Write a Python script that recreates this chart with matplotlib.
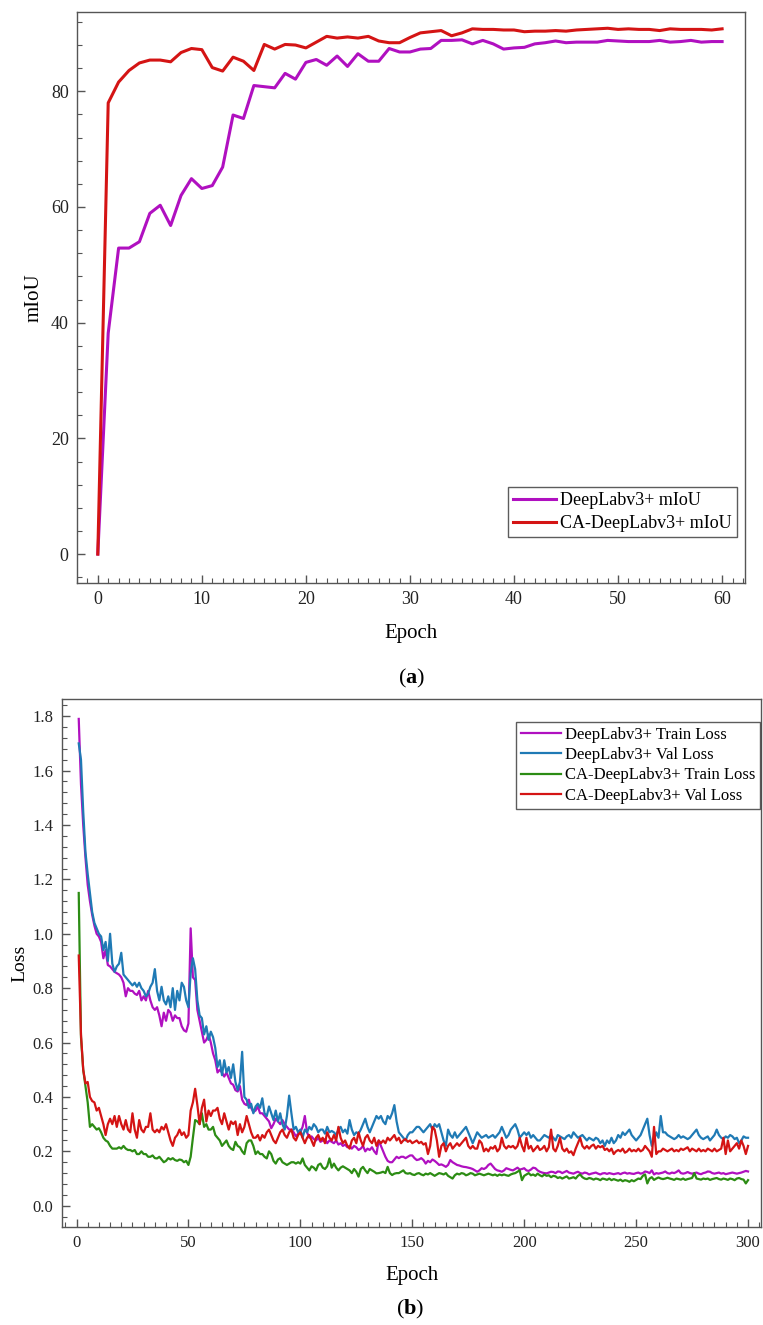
import matplotlib
matplotlib.use("Agg")
import matplotlib.pyplot as plt
from matplotlib.ticker import MultipleLocator, FormatStrFormatter

plt.rcParams['font.family'] = ['Liberation Serif', 'DejaVu Serif']
plt.rcParams['mathtext.fontset'] = 'custom'
plt.rcParams['mathtext.rm'] = 'Liberation Serif'
plt.rcParams['mathtext.bf'] = 'Liberation Serif:bold'

# ---- (a) mIoU per epoch ----
miou_epoch = list(range(0, 61))
dl_miou = [0.0, 38.2, 52.9, 52.9, 54.0, 58.9, 60.3, 56.8, 62.0, 64.9,
           63.2, 63.7, 66.9, 75.9, 75.3, 81.0, 80.8, 80.6, 83.1, 82.1,
           85.0, 85.5, 84.5, 86.1, 84.3, 86.5, 85.2, 85.2, 87.4, 86.8,
           86.8, 87.3, 87.4, 88.8, 88.8, 88.9, 88.2, 88.8, 88.2, 87.3,
           87.5, 87.6, 88.2, 88.4, 88.7, 88.4, 88.5, 88.5, 88.5, 88.8,
           88.7, 88.6, 88.6, 88.6, 88.8, 88.5, 88.6, 88.8, 88.5, 88.6,
           88.6]
ca_miou = [0.0, 78.0, 81.6, 83.6, 84.9, 85.4, 85.4, 85.1, 86.7, 87.4,
           87.2, 84.1, 83.5, 85.9, 85.2, 83.6, 88.1, 87.3, 88.1, 88.0,
           87.5, 88.5, 89.5, 89.2, 89.4, 89.2, 89.5, 88.7, 88.4, 88.4,
           89.3, 90.1, 90.3, 90.5, 89.6, 90.1, 90.8, 90.7, 90.7, 90.6,
           90.6, 90.3, 90.4, 90.4, 90.5, 90.4, 90.6, 90.7, 90.8, 90.9,
           90.7, 90.8, 90.7, 90.7, 90.5, 90.8, 90.7, 90.7, 90.7, 90.6,
           90.8]

# ---- (b) loss per epoch ----
loss_epoch = list(range(1, 301))
dl_train = [1.79, 1.55, 1.40, 1.28, 1.18, 1.12, 1.07, 1.03, 1.00, 0.99,
            0.97, 0.91, 0.94, 0.885, 0.88, 0.87, 0.86, 0.855, 0.85, 0.84,
            0.82, 0.77, 0.80, 0.79, 0.79, 0.78, 0.775, 0.79, 0.755, 0.77,
            0.755, 0.79, 0.755, 0.73, 0.72, 0.73, 0.70, 0.66, 0.71, 0.68,
            0.72, 0.71, 0.68, 0.70, 0.69, 0.69, 0.66, 0.645, 0.64, 0.67,
            1.02, 0.84, 0.83, 0.72, 0.68, 0.64, 0.60, 0.61, 0.63, 0.60,
            0.56, 0.535, 0.49, 0.50, 0.49, 0.475, 0.49, 0.47, 0.45, 0.445,
            0.425, 0.42, 0.44, 0.39, 0.375, 0.37, 0.39, 0.36, 0.345, 0.35,
            0.365, 0.34, 0.34, 0.33, 0.32, 0.31, 0.285, 0.30, 0.32, 0.31,
            0.30, 0.315, 0.30, 0.29, 0.28, 0.28, 0.27, 0.255, 0.265, 0.27,
            0.29, 0.33, 0.27, 0.25, 0.255, 0.245, 0.24, 0.25, 0.235, 0.24,
            0.245, 0.23, 0.24, 0.235, 0.23, 0.24, 0.225, 0.23, 0.22, 0.225,
            0.215, 0.22, 0.21, 0.22, 0.215, 0.205, 0.21, 0.22, 0.20, 0.21,
            0.205, 0.215, 0.20, 0.19, 0.24, 0.22, 0.20, 0.18, 0.165, 0.16,
            0.16, 0.17, 0.18, 0.175, 0.18, 0.18, 0.175, 0.18, 0.185, 0.185,
            0.175, 0.168, 0.17, 0.175, 0.168, 0.155, 0.165, 0.16, 0.17, 0.165,
            0.158, 0.15, 0.152, 0.148, 0.143, 0.15, 0.168, 0.16, 0.155, 0.15,
            0.148, 0.145, 0.143, 0.142, 0.14, 0.138, 0.135, 0.13, 0.125, 0.13,
            0.138, 0.135, 0.14, 0.15, 0.155, 0.145, 0.135, 0.13, 0.128, 0.125,
            0.13, 0.138, 0.135, 0.132, 0.13, 0.135, 0.14, 0.133, 0.135, 0.138,
            0.13, 0.128, 0.133, 0.14, 0.138, 0.13, 0.125, 0.122, 0.12, 0.119,
            0.122, 0.125, 0.124, 0.12, 0.126, 0.125, 0.12, 0.124, 0.128, 0.122,
            0.12, 0.118, 0.122, 0.125, 0.12, 0.118, 0.122, 0.12, 0.115, 0.118,
            0.12, 0.122, 0.118, 0.115, 0.119, 0.12, 0.117, 0.12, 0.118, 0.116,
            0.118, 0.12, 0.116, 0.12, 0.122, 0.118, 0.12, 0.118, 0.117, 0.12,
            0.122, 0.118, 0.12, 0.126, 0.124, 0.12, 0.13, 0.115, 0.12, 0.118,
            0.12, 0.122, 0.126, 0.12, 0.118, 0.122, 0.12, 0.124, 0.13, 0.12,
            0.118, 0.12, 0.124, 0.12, 0.118, 0.12, 0.122, 0.118, 0.116, 0.12,
            0.122, 0.126, 0.125, 0.12, 0.118, 0.12, 0.122, 0.118, 0.12, 0.116,
            0.118, 0.12, 0.122, 0.12, 0.118, 0.12, 0.122, 0.125, 0.128, 0.126]
dl_val = [1.70, 1.64, 1.45, 1.30, 1.22, 1.15, 1.08, 1.04, 1.02, 1.00,
          0.99, 0.94, 0.97, 0.90, 1.00, 0.89, 0.86, 0.88, 0.89, 0.93,
          0.85, 0.84, 0.83, 0.82, 0.81, 0.82, 0.805, 0.82, 0.80, 0.79,
          0.77, 0.78, 0.805, 0.82, 0.87, 0.79, 0.755, 0.805, 0.755, 0.74,
          0.77, 0.73, 0.80, 0.72, 0.79, 0.755, 0.82, 0.805, 0.755, 0.73,
          0.855, 0.91, 0.87, 0.755, 0.70, 0.69, 0.63, 0.66, 0.61, 0.64,
          0.62, 0.58, 0.51, 0.535, 0.48, 0.535, 0.49, 0.51, 0.47, 0.52,
          0.455, 0.425, 0.455, 0.566, 0.40, 0.39, 0.36, 0.375, 0.34, 0.365,
          0.375, 0.36, 0.395, 0.34, 0.33, 0.365, 0.34, 0.315, 0.35, 0.31,
          0.34, 0.30, 0.28, 0.33, 0.405, 0.34, 0.28, 0.29, 0.27, 0.28,
          0.25, 0.28, 0.27, 0.29, 0.28, 0.30, 0.29, 0.27, 0.28, 0.28,
          0.265, 0.29, 0.27, 0.275, 0.27, 0.26, 0.28, 0.29, 0.27, 0.28,
          0.265, 0.315, 0.28, 0.26, 0.27, 0.265, 0.28, 0.30, 0.32, 0.29,
          0.27, 0.29, 0.31, 0.33, 0.32, 0.33, 0.31, 0.30, 0.33, 0.32,
          0.34, 0.37, 0.31, 0.27, 0.26, 0.25, 0.24, 0.26, 0.27, 0.27,
          0.28, 0.29, 0.29, 0.28, 0.27, 0.28, 0.29, 0.30, 0.28, 0.30,
          0.29, 0.30, 0.27, 0.24, 0.22, 0.28, 0.26, 0.25, 0.27, 0.25,
          0.26, 0.27, 0.28, 0.29, 0.27, 0.25, 0.23, 0.25, 0.27, 0.26,
          0.25, 0.255, 0.26, 0.25, 0.255, 0.26, 0.25, 0.26, 0.27, 0.29,
          0.27, 0.25, 0.26, 0.28, 0.29, 0.30, 0.28, 0.25, 0.26, 0.27,
          0.26, 0.27, 0.25, 0.26, 0.25, 0.24, 0.24, 0.25, 0.26, 0.255,
          0.25, 0.26, 0.25, 0.24, 0.26, 0.255, 0.25, 0.245, 0.255, 0.26,
          0.25, 0.27, 0.26, 0.25, 0.255, 0.26, 0.25, 0.24, 0.25, 0.245,
          0.24, 0.25, 0.245, 0.23, 0.24, 0.22, 0.24, 0.23, 0.25, 0.23,
          0.24, 0.26, 0.25, 0.27, 0.26, 0.27, 0.28, 0.26, 0.25, 0.24,
          0.25, 0.26, 0.28, 0.30, 0.32, 0.26, 0.22, 0.24, 0.27, 0.25,
          0.33, 0.27, 0.27, 0.26, 0.255, 0.25, 0.245, 0.25, 0.26, 0.25,
          0.255, 0.25, 0.245, 0.25, 0.26, 0.27, 0.28, 0.26, 0.25, 0.245,
          0.25, 0.255, 0.24, 0.25, 0.26, 0.28, 0.26, 0.25, 0.245, 0.255,
          0.25, 0.26, 0.255, 0.245, 0.25, 0.23, 0.24, 0.255, 0.25, 0.25]
ca_train = [1.15, 0.62, 0.50, 0.44, 0.38, 0.29, 0.30, 0.29, 0.28, 0.285,
            0.27, 0.25, 0.24, 0.235, 0.22, 0.21, 0.21, 0.21, 0.215, 0.21,
            0.22, 0.21, 0.205, 0.205, 0.20, 0.205, 0.19, 0.19, 0.20, 0.19,
            0.19, 0.18, 0.18, 0.185, 0.175, 0.174, 0.18, 0.17, 0.16, 0.165,
            0.175, 0.17, 0.175, 0.168, 0.165, 0.17, 0.168, 0.16, 0.165, 0.15,
            0.18, 0.25, 0.315, 0.31, 0.30, 0.34, 0.29, 0.30, 0.28, 0.28,
            0.29, 0.26, 0.25, 0.24, 0.22, 0.23, 0.24, 0.22, 0.21, 0.205,
            0.235, 0.22, 0.215, 0.20, 0.19, 0.23, 0.24, 0.24, 0.22, 0.19,
            0.20, 0.19, 0.19, 0.18, 0.174, 0.20, 0.19, 0.165, 0.155, 0.17,
            0.175, 0.16, 0.155, 0.15, 0.155, 0.16, 0.16, 0.155, 0.16, 0.155,
            0.174, 0.15, 0.14, 0.13, 0.145, 0.14, 0.13, 0.15, 0.155, 0.14,
            0.135, 0.145, 0.174, 0.14, 0.155, 0.14, 0.13, 0.14, 0.145, 0.14,
            0.135, 0.13, 0.12, 0.135, 0.125, 0.107, 0.135, 0.143, 0.13, 0.12,
            0.135, 0.13, 0.125, 0.119, 0.12, 0.122, 0.125, 0.12, 0.143, 0.12,
            0.113, 0.118, 0.12, 0.12, 0.125, 0.13, 0.12, 0.118, 0.12, 0.115,
            0.113, 0.118, 0.12, 0.115, 0.112, 0.118, 0.115, 0.12, 0.115, 0.11,
            0.115, 0.12, 0.118, 0.115, 0.12, 0.11, 0.105, 0.10, 0.112, 0.118,
            0.115, 0.12, 0.118, 0.112, 0.115, 0.12, 0.118, 0.112, 0.115, 0.118,
            0.115, 0.112, 0.115, 0.118, 0.115, 0.112, 0.115, 0.11, 0.115, 0.112,
            0.115, 0.112, 0.11, 0.115, 0.118, 0.12, 0.125, 0.13, 0.094, 0.11,
            0.115, 0.12, 0.112, 0.115, 0.11, 0.118, 0.112, 0.108, 0.115, 0.11,
            0.112, 0.105, 0.11, 0.108, 0.102, 0.105, 0.10, 0.104, 0.108, 0.10,
            0.102, 0.105, 0.10, 0.11, 0.115, 0.105, 0.10, 0.098, 0.102, 0.10,
            0.096, 0.10, 0.098, 0.094, 0.10, 0.098, 0.095, 0.10, 0.094, 0.098,
            0.095, 0.092, 0.096, 0.09, 0.094, 0.092, 0.088, 0.094, 0.09, 0.095,
            0.10, 0.098, 0.11, 0.115, 0.082, 0.10, 0.105, 0.095, 0.10, 0.104,
            0.10, 0.098, 0.10, 0.103, 0.10, 0.098, 0.095, 0.10, 0.098, 0.096,
            0.10, 0.095, 0.098, 0.10, 0.102, 0.12, 0.10, 0.098, 0.096, 0.10,
            0.098, 0.10, 0.095, 0.098, 0.10, 0.102, 0.098, 0.096, 0.10, 0.098,
            0.095, 0.10, 0.098, 0.094, 0.10, 0.102, 0.098, 0.096, 0.082, 0.094]
ca_val = [0.92, 0.63, 0.50, 0.45, 0.455, 0.40, 0.385, 0.38, 0.35, 0.36,
          0.33, 0.30, 0.26, 0.30, 0.32, 0.30, 0.33, 0.29, 0.33, 0.30,
          0.28, 0.315, 0.28, 0.27, 0.34, 0.28, 0.25, 0.315, 0.28, 0.27,
          0.29, 0.29, 0.34, 0.28, 0.27, 0.28, 0.27, 0.29, 0.28, 0.30,
          0.27, 0.24, 0.22, 0.25, 0.26, 0.28, 0.26, 0.27, 0.25, 0.26,
          0.35, 0.38, 0.43, 0.37, 0.30, 0.36, 0.39, 0.31, 0.35, 0.33,
          0.35, 0.35, 0.36, 0.32, 0.30, 0.34, 0.31, 0.28, 0.31, 0.30,
          0.31, 0.26, 0.30, 0.27, 0.29, 0.33, 0.30, 0.27, 0.25, 0.25,
          0.26, 0.24, 0.26, 0.25, 0.27, 0.28, 0.26, 0.24, 0.23, 0.25,
          0.27, 0.28, 0.26, 0.25, 0.27, 0.28, 0.25, 0.24, 0.26, 0.27,
          0.25, 0.23, 0.25, 0.26, 0.24, 0.22, 0.25, 0.26, 0.24, 0.25,
          0.23, 0.27, 0.25, 0.24, 0.26, 0.24, 0.29, 0.25, 0.23, 0.24,
          0.22, 0.21, 0.24, 0.25, 0.23, 0.27, 0.24, 0.22, 0.25, 0.26,
          0.24, 0.23, 0.25, 0.22, 0.24, 0.23, 0.24, 0.23, 0.25, 0.24,
          0.25, 0.26, 0.24, 0.25, 0.23, 0.24, 0.245, 0.235, 0.24, 0.23,
          0.235, 0.24, 0.23, 0.235, 0.225, 0.23, 0.19, 0.22, 0.29, 0.28,
          0.24, 0.18, 0.22, 0.23, 0.20, 0.22, 0.23, 0.21, 0.22, 0.23,
          0.22, 0.23, 0.24, 0.25, 0.22, 0.21, 0.22, 0.21, 0.21, 0.24,
          0.23, 0.20, 0.21, 0.20, 0.215, 0.21, 0.22, 0.20, 0.21, 0.25,
          0.22, 0.21, 0.22, 0.215, 0.22, 0.21, 0.22, 0.25, 0.22, 0.20,
          0.25, 0.21, 0.22, 0.20, 0.21, 0.22, 0.205, 0.21, 0.22, 0.20,
          0.215, 0.28, 0.21, 0.20, 0.22, 0.25, 0.21, 0.20, 0.21, 0.195,
          0.20, 0.186, 0.21, 0.23, 0.25, 0.22, 0.21, 0.22, 0.21, 0.22,
          0.225, 0.21, 0.22, 0.215, 0.22, 0.205, 0.21, 0.20, 0.21, 0.19,
          0.20, 0.205, 0.20, 0.21, 0.195, 0.20, 0.21, 0.20, 0.205, 0.20,
          0.21, 0.20, 0.205, 0.22, 0.21, 0.20, 0.18, 0.29, 0.19, 0.20,
          0.20, 0.21, 0.205, 0.20, 0.205, 0.21, 0.20, 0.205, 0.20, 0.21,
          0.205, 0.21, 0.215, 0.20, 0.21, 0.205, 0.20, 0.21, 0.20, 0.205,
          0.20, 0.21, 0.205, 0.20, 0.21, 0.20, 0.205, 0.21, 0.25, 0.19,
          0.24, 0.20, 0.21, 0.22, 0.23, 0.21, 0.24, 0.22, 0.19, 0.22]

purple = '#b010c0'
red = '#d41414'
blue = '#1f7ab5'
green = '#2c8c14'
spine_col = '#555555'


def style_axes(ax, fs):
    for s in ax.spines.values():
        s.set_color(spine_col)
        s.set_linewidth(1.0)
    ax.tick_params(which='both', direction='in', colors=spine_col,
                   labelcolor='#222222', labelsize=fs, top=False, right=False)
    ax.tick_params(which='major', length=6, width=1.0, pad=6)
    ax.tick_params(which='minor', length=3.5, width=0.8)


fig = plt.figure(figsize=(7.63, 13.25), dpi=100)

# top chart
ax1 = fig.add_axes([0.1009, 0.56, 0.8755, 0.4309])
ax1.plot(miou_epoch, dl_miou, color=purple, lw=2.2, label='DeepLabv3+ mIoU')
ax1.plot(miou_epoch, ca_miou, color=red, lw=2.2, label='CA-DeepLabv3+ mIoU')
ax1.set_xlim(-2.0, 62.2)
ax1.set_ylim(-5.0, 93.7)
ax1.xaxis.set_major_locator(MultipleLocator(10))
ax1.xaxis.set_minor_locator(MultipleLocator(1))
ax1.yaxis.set_major_locator(MultipleLocator(20))
ax1.yaxis.set_minor_locator(MultipleLocator(4))
style_axes(ax1, 13)
ax1.set_xlabel('Epoch', fontsize=15, labelpad=11)
ax1.set_ylabel('mIoU', fontsize=15, labelpad=5)
leg1 = ax1.legend(loc='lower right', bbox_to_anchor=(0.988, 0.08), fontsize=13,
                  frameon=True, fancybox=False, edgecolor='#333333',
                  handlelength=2.4, handletextpad=0.2, labelspacing=0.3,
                  borderpad=0.3, borderaxespad=0)
leg1.get_frame().set_linewidth(1.0)
fig.text(0.539, 0.488, r'($\mathbf{a}$)', ha='center', va='center', fontsize=16)

# bottom chart
ax2 = fig.add_axes([0.0809, 0.0742, 0.9171, 0.398])
ax2.plot(loss_epoch, dl_train, color=purple, lw=1.6, label='DeepLabv3+ Train Loss')
ax2.plot(loss_epoch, dl_val, color=blue, lw=1.6, label='DeepLabv3+ Val Loss')
ax2.plot(loss_epoch, ca_train, color=green, lw=1.6, label='CA-DeepLabv3+ Train Loss')
ax2.plot(loss_epoch, ca_val, color=red, lw=1.6, label='CA-DeepLabv3+ Val Loss')
ax2.set_xlim(-6.6, 306)
ax2.set_ylim(-0.077, 1.862)
ax2.xaxis.set_major_locator(MultipleLocator(50))
ax2.xaxis.set_minor_locator(MultipleLocator(5))
ax2.yaxis.set_major_locator(MultipleLocator(0.2))
ax2.yaxis.set_minor_locator(MultipleLocator(0.04))
ax2.yaxis.set_major_formatter(FormatStrFormatter('%.1f'))
style_axes(ax2, 12)
ax2.set_xlabel('Epoch', fontsize=15, labelpad=11)
ax2.set_ylabel('Loss', fontsize=14, labelpad=3)
leg2 = ax2.legend(loc='upper right', bbox_to_anchor=(0.998, 0.957), fontsize=12,
                  frameon=True, fancybox=False, edgecolor='#333333',
                  handlelength=2.4, handletextpad=0.2, labelspacing=0.25,
                  borderpad=0.3, borderaxespad=0)
leg2.get_frame().set_linewidth(1.0)
fig.text(0.537, 0.012, r'($\mathbf{b}$)', ha='center', va='center', fontsize=16)

fig.savefig('out.png', dpi=100)
